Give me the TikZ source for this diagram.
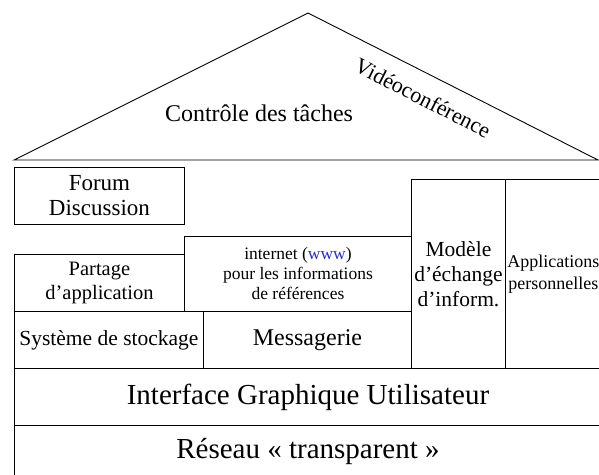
\documentclass[tikz,border=0pt]{standalone}
\usepackage{fontspec}
\setmainfont{Liberation Serif}
\definecolor{lien}{RGB}{40,40,230}
\newcommand{\police}[2]{\fontsize{#1}{#2}\selectfont}

\begin{document}
\begin{tikzpicture}[x=1pt,y=-1pt,line width=0.9pt]
\tikzset{bloc/.style={draw,rectangle,anchor=north west,inner sep=0pt,align=center}}
\useasboundingbox (0,0) rectangle (599,474);
\clip (0,0) rectangle (599,474);
% toit
\draw (14,160) coordinate (gauche) -- (308,13) coordinate (sommet) -- (598,160) coordinate (droite) -- cycle;
\node[font=\police{24}{28}] (taches) at (259,113) {Contrôle des tâches};
\node[font=\police{22}{26},rotate=-27] (video) at (423,98) {Vidéoconférence};
% blocs
\node[bloc,minimum width=170,minimum height=57,font=\police{23}{25}] (forum) at (14,167) {Forum\\Discussion};
\node[bloc,minimum width=170,minimum height=57,font=\police{20.5}{24}] (partage) at (14,254) {Partage\\d’application};
\node[bloc,minimum width=227,minimum height=75,font=\police{17.5}{20}] (internet) at (184,236)
  {internet (\textcolor{lien}{www})\\pour les informations\\de références};
\node[bloc,minimum width=189,minimum height=57,font=\police{21.5}{25}] (stockage) at (14,311) {Système de stockage};
\node[bloc,minimum width=208,minimum height=57,font=\police{24}{28}] (messagerie) at (203,311) {Messagerie};
\node[bloc,minimum width=94,minimum height=189,font=\police{21.5}{25}] (modele) at (411,179) {Modèle\\d’échange\\d’inform.};
\node[bloc,minimum width=96,minimum height=189,font=\police{18}{22}] (applis) at (505,179) {Applications\\personnelles};
\node[bloc,minimum width=587,minimum height=57,font=\police{29}{33}] (interface) at (14,368) {Interface Graphique Utilisateur};
\node[bloc,minimum width=587,minimum height=52,font=\police{29}{33}] (reseau) at (14,425) {Réseau « transparent »};
\end{tikzpicture}
\end{document}
